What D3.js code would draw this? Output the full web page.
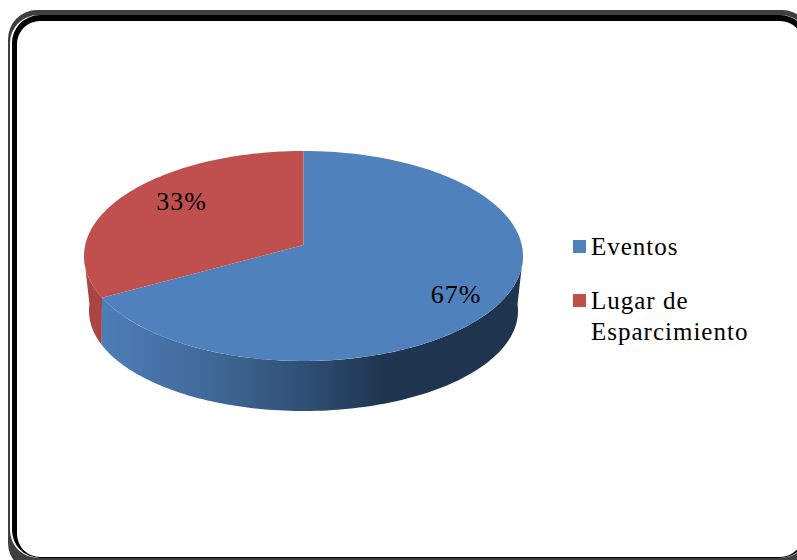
<!DOCTYPE html>
<html><head><meta charset="utf-8">
<script src="https://cdn.jsdelivr.net/npm/d3@7"></script>
<style>html,body{margin:0;padding:0;background:#fff;overflow:hidden}svg{display:block}</style>
</head><body><svg id="c" width="797" height="560"></svg>
<script>
const categories = ["Eventos", "Lugar de Esparcimiento"];
const values = [67, 33];
const labels = ["67%", "33%"];
const colors = ["#4f81bd", "#c0504d"];
const legendLines = [["Eventos"], ["Lugar de", "Esparcimiento"]];

const W = 797, H = 560;
const svg = d3.select("#c").attr("viewBox", [0, 0, W, H]);

// frame: a thin grey ring and a heavier black ring
function roundRect(x0, y0, x1, y1, r) {
  const p = d3.path();
  p.moveTo(x0 + r, y0);
  p.lineTo(x1 - r, y0); p.arcTo(x1, y0, x1, y0 + r, r);
  p.lineTo(x1, y1 - r); p.arcTo(x1, y1, x1 - r, y1, r);
  p.lineTo(x0 + r, y1); p.arcTo(x0, y1, x0, y1 - r, r);
  p.lineTo(x0, y0 + r); p.arcTo(x0, y0, x0 + r, y0, r);
  p.closePath();
  return p.toString();
}
svg.append("path").attr("fill-rule", "evenodd").attr("fill", "#3f3f3f")
  .attr("d", roundRect(8, 10, 811, 572, 29) + roundRect(10, 15, 809, 558, 28));
svg.append("path").attr("fill-rule", "evenodd").attr("fill", "#000")
  .attr("d", roundRect(12, 15, 808, 558, 28) + roundRect(17, 21, 803, 557, 23));

// pie
const pie = d3.pie().sort(null).value(d => d);
const arcs = pie(values);

// top ellipse and rim-bottom ellipse, through scales
const topX = d3.scaleLinear().domain([-1, 1]).range([84, 523]);
const topY = d3.scaleLinear().domain([-1, 1]).range([151, 361]);
const botX = d3.scaleLinear().domain([-1, 1]).range([89, 518]);
const botY = d3.scaleLinear().domain([-1, 1]).range([211, 411]);
const kTop = -0.105, kBot = -0.17; // foreshortening of the pie centre
function proj(a, k) {
  const u = Math.sin(a), v = -Math.cos(a), w = 1 + k * v;
  return [u * Math.sqrt(1 - k * k) / w, (v + k) / w];
}
const line = d3.line();
const steps = a => d3.range(0, 121).map(i => a.startAngle + (a.endAngle - a.startAngle) * i / 120);
const onTop = t => { const p = proj(t, kTop); return [topX(p[0]), topY(p[1])]; };
const onBot = t => { const p = proj(t, kBot); return [botX(p[0]), botY(p[1])]; };

// angle of the ellipse's rightmost / leftmost points
const angs = d3.range(0, 3601).map(i => i / 3600 * 2 * Math.PI);
const rightA = d3.greatest(angs, t => proj(t, kTop)[0]);
const leftA = d3.least(angs, t => proj(t, kTop)[0]);

const defs = svg.append("defs");
const grad = defs.append("linearGradient").attr("id", "side").attr("gradientUnits", "userSpaceOnUse")
  .attr("x1", topX(-1)).attr("x2", topX(1)).attr("y1", 0).attr("y2", 0);
[[0, "#4f81bd"], [0.1, "#4a78af"], [0.3, "#3f6896"], [0.5, "#2f4f75"], [0.68, "#203650"], [0.85, "#1f344e"], [1, "#1f3550"]]
  .forEach(s => grad.append("stop").attr("offset", s[0]).attr("stop-color", s[1]));

function wall(a0, a1, fill) {
  const ts = d3.range(0, 121).map(i => a0 + (a1 - a0) * i / 120);
  svg.append("path")
    .attr("d", line(ts.map(onTop).concat(ts.slice().reverse().map(onBot))) + "Z")
    .attr("fill", fill);
}
// outer walls, front half only
wall(rightA, arcs[0].endAngle, "url(#side)");
wall(arcs[1].startAngle, leftA, "#a94644");

// faces
const apex = [topX(0), topY(kTop)];
arcs.forEach((a, i) => {
  svg.append("path")
    .attr("d", line([apex].concat(steps(a).map(onTop))) + "Z")
    .attr("fill", colors[i]);
});

// value labels
const labelFont = "'Liberation Serif','Times New Roman',serif";
const labelPos = [[0.695, 0.45], [-0.555, -0.435]];
labels.forEach((t, i) => {
  svg.append("text").attr("x", topX(labelPos[i][0])).attr("y", topY(labelPos[i][1]))
    .attr("text-anchor", "middle").attr("font-family", labelFont).attr("font-size", 26)
    .attr("letter-spacing", 1).attr("fill", "#000").text(t);
});

// legend
const legY = [255, 309];
categories.forEach((c, i) => {
  svg.append("rect").attr("x", 573).attr("y", legY[i] - 15).attr("width", 13).attr("height", 13).attr("fill", colors[i]);
  const tx = svg.append("text").attr("font-family", labelFont).attr("font-size", 25)
    .attr("letter-spacing", 1).attr("fill", "#000");
  legendLines[i].forEach((l, j) => tx.append("tspan").attr("x", 591).attr("y", legY[i] + j * 31).text(l));
});
</script></body></html>
